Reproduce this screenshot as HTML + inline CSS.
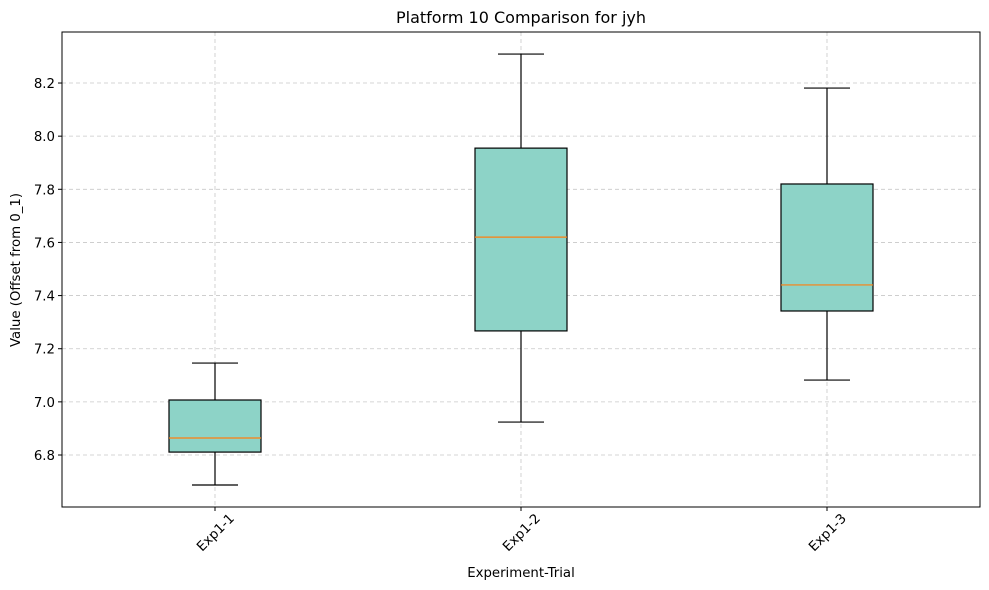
<!DOCTYPE html>
<html><head><meta charset="utf-8"><style>body{margin:0;background:#fff}svg{display:block;font-family:"DejaVu Sans","Liberation Sans",sans-serif}</style></head>
<body>
<svg id="chart" width="989" height="590">
<rect x="0" y="0" width="989" height="590" fill="#fff"/>
<g id="grid"></g>
<g id="boxes"></g>
<rect x="62" y="32" width="918" height="475" fill="none" stroke="#000" stroke-width="1"/>
<g id="axes"></g>
<text x="521" y="23" text-anchor="middle" font-size="16">Platform 10 Comparison for jyh</text>
<text x="521" y="577" text-anchor="middle" font-size="13.3">Experiment-Trial</text>
<text x="20" y="270" text-anchor="middle" font-size="13.3" transform="rotate(-90 20 270)">Value (Offset from 0_1)</text>
</svg>
<script>
const categories=["Exp1-1","Exp1-2","Exp1-3"];
const whiskerLow=[6.687,6.924,7.082];
const q1=[6.811,7.267,7.342];
const median=[6.864,7.620,7.440];
const q3=[7.007,7.955,7.820];
const whiskerHigh=[7.146,8.309,8.181];
const yTicks=[6.8,7.0,7.2,7.4,7.6,7.8,8.0,8.2];
const yTickLabels=["6.8","7.0","7.2","7.4","7.6","7.8","8.0","8.2"];

const NS="http://www.w3.org/2000/svg";
const L=62,R=980,T=32,B=507;
function y(v){return 455-(v-6.8)*265.7;}
function x(i){return 215+i*306;}
function mk(tag,attrs,parent){const e=document.createElementNS(NS,tag);for(const k in attrs)e.setAttribute(k,attrs[k]);document.getElementById(parent).appendChild(e);return e;}
yTicks.forEach((t,i)=>{
  let g=mk('line',{x1:L,x2:R,y1:y(t),y2:y(t),stroke:'#c8c8c8','stroke-dasharray':'4,3','stroke-width':0.8},'grid');
  
  
  let tk=mk('line',{x1:L-4,x2:L,y1:y(t),y2:y(t),stroke:'#000'},'axes');
  
  
  let tx=mk('text',{x:L-7,y:y(t)+5,'text-anchor':'end','font-size':13.3},'axes');
  tx.textContent=yTickLabels[i];
  
  
});
categories.forEach((c,i)=>{
  const cx=x(i);
  let g=mk('line',{x1:cx,x2:cx,y1:T,y2:B,stroke:'#c8c8c8','stroke-dasharray':'4,3','stroke-width':0.8},'grid');
  
  
  const hw=46,cw=23;
  const parts=[
    ['line',{x1:cx,x2:cx,y1:y(whiskerHigh[i]),y2:y(q3[i]),stroke:'#000','stroke-width':1.2},'whisker-upper'],
    ['line',{x1:cx,x2:cx,y1:y(q1[i]),y2:y(whiskerLow[i]),stroke:'#000','stroke-width':1.2},'whisker-lower'],
    ['line',{x1:cx-cw,x2:cx+cw,y1:y(whiskerHigh[i]),y2:y(whiskerHigh[i]),stroke:'#000','stroke-width':1.2},'cap-upper'],
    ['line',{x1:cx-cw,x2:cx+cw,y1:y(whiskerLow[i]),y2:y(whiskerLow[i]),stroke:'#000','stroke-width':1.2},'cap-lower'],
    ['rect',{x:cx-hw,y:y(q3[i]),width:hw*2,height:y(q1[i])-y(q3[i]),fill:'#8dd3c7',stroke:'#000','stroke-width':1.2},'box-'+c.toLowerCase()],
    ['line',{x1:cx-hw,x2:cx+hw,y1:y(median[i]),y2:y(median[i]),stroke:'#ff7f0e','stroke-width':1.2},'median-line']
  ];
  parts.forEach(p=>{const e=mk(p[0],p[1],'boxes');
    
    });
  let tk=mk('line',{x1:cx,x2:cx,y1:B,y2:B+4,stroke:'#000'},'axes');
  
  
  let tx=mk('text',{x:cx,y:537,'text-anchor':'middle','font-size':13.3,transform:`rotate(-45 ${cx} 532)`},'axes');
  tx.textContent=c;
  
  
});
</script>
</body></html>
